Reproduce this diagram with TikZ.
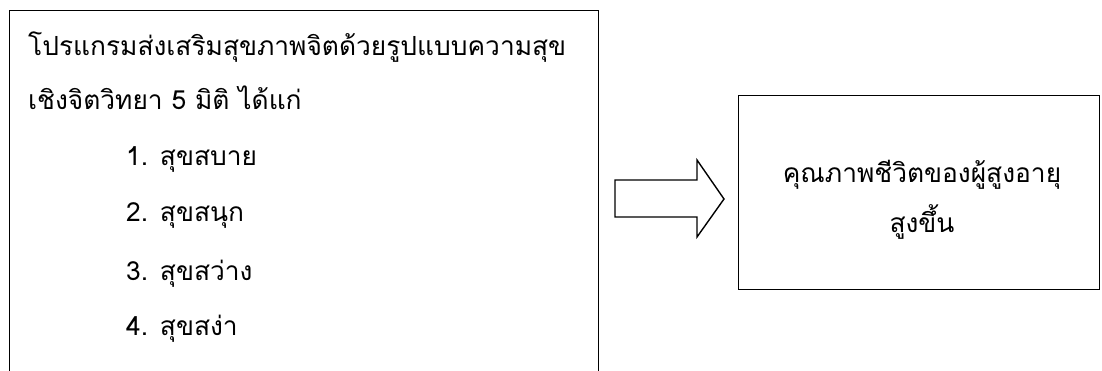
\documentclass[tikz,border=0pt]{standalone}
\usepackage{fontspec}
\newfontfamily\thaifont[Script=Thai]{Loma}
\newlength\firstlinewd
\begin{document}
\settowidth\firstlinewd{\thaifont\fontsize{20}{24}\selectfont โปรแกรมส่งเสริมสุขภาพจิตด้วยรูปแบบความสุข}%
\pgfmathsetmacro\fsz{20*538/\firstlinewd}%
\begin{tikzpicture}[x=1pt,y=-1pt,
  frame/.style={draw=black,line width=1.4pt,fill=none},
  txt/.style={inner sep=0pt,anchor=base west,font=\thaifont\fontsize{\fsz}{\fsz}\selectfont},
  ctxt/.style={inner sep=0pt,anchor=base,font=\thaifont\fontsize{\fsz}{\fsz}\selectfont}]
\clip (0,0) rectangle (1102,371);
\fill[white] (0,0) rectangle (1102,371);
% left box (bottom runs off the picture)
\node[frame,minimum width=589pt,minimum height=400pt,inner sep=0pt,anchor=north west] (left) at (9,10) {};
\node[txt] (l1) at (28,56) {โปรแกรมส่งเสริมสุขภาพจิตด้วยรูปแบบความสุข};
\node[txt] (l2) at (28,110) {เชิงจิตวิทยา 5 มิติ ได้แก่};
\node[txt] (i1) at (126,166) {1. สุขสบาย};
\node[txt] (i2) at (126,222) {2. สุขสนุก};
\node[txt] (i3) at (126,280) {3. สุขสว่าง};
\node[txt] (i4) at (126,335) {4. สุขสง่า};
% right box
\node[frame,minimum width=361pt,minimum height=194pt,inner sep=0pt,anchor=north west] (right) at (738,95) {};
\node[ctxt] (r1) at (922,183) {คุณภาพชีวิตของผู้สูงอายุ};
\node[ctxt] (r2) at (922,233) {สูงขึ้น};
% block arrow between the boxes
\draw[line width=1.4pt,line join=miter,fill=white]
  (615,180) -- (697,180) -- (697,160) -- (724,199) -- (697,237) -- (697,217) -- (615,217) -- cycle;
\end{tikzpicture}
\end{document}
